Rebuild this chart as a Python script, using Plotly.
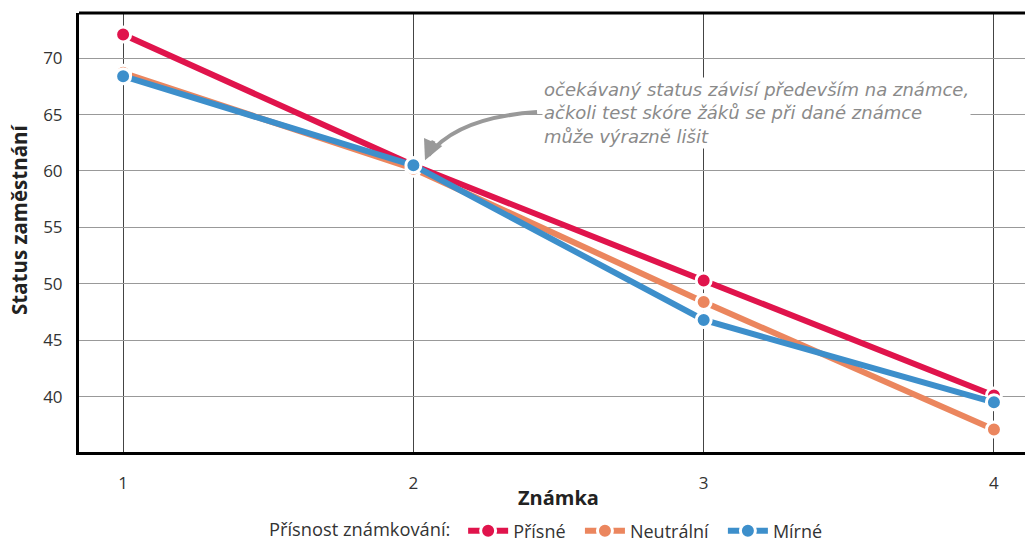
import plotly.graph_objects as go

grades = [1, 2, 3, 4]
series_names = ["Přísné", "Neutrální", "Mírné"]
prisne = [72.1, 60.5, 50.3, 40.1]
neutralni = [68.7, 60.2, 48.4, 37.1]
mirne = [68.4, 60.5, 46.8, 39.5]
colors = ["#E0144C", "#EB865E", "#3D8FCB"]
y_ticks = [40, 45, 50, 55, 60, 65, 70]
x_title = "Známka"
y_title = "Status zaměstnání"
legend_title = "Přísnost známkování:"
note_text = ("očekávaný status závisí především na známce,<br>"
             "ačkoli test skóre žáků se při dané známce<br>"
             "může výrazně lišit")

fig = go.Figure()
for name, vals, col in zip(series_names, [prisne, neutralni, mirne], colors):
    fig.add_trace(go.Scatter(
        x=grades, y=vals, name=name + "\u00a0\u00a0", mode="lines+markers",
        line=dict(color=col, width=6),
        marker=dict(color=col, size=15, line=dict(color="white", width=3)),
    ))

font_main = "Open Sans, Noto Sans, sans-serif"

# curved arrow
fig.add_shape(type="path", xref="x", yref="y",
              path="M 2.426 65.22 Q 2.15 64.75 2.052 61.4",
              line=dict(color="#999999", width=4))
fig.add_annotation(x=2.040, y=60.95, ax=2.072, ay=62.8, xref="x", yref="y",
                   axref="x", ayref="y", text="", showarrow=True,
                   arrowhead=2, arrowsize=1.0, arrowwidth=4, arrowcolor="#999999")
fig.add_annotation(x=2.443, y=65.13, xref="x", yref="y", xanchor="left", yanchor="middle",
                   text="<i>" + note_text + "</i>", showarrow=False, align="left",
                   bgcolor="white", font=dict(family="DejaVu Sans, sans-serif", size=18, color="#8a8a8a"))

# axis titles
fig.add_annotation(xref="paper", yref="paper", x=-60 / 946, y=(452 - 220) / 439,
                   text="<b>" + y_title + "</b>", textangle=-90, showarrow=False,
                   xanchor="center", yanchor="middle",
                   font=dict(family=font_main, size=20.5, color="#222222"))
fig.add_annotation(xref="paper", yref="paper", x=(558 - 79) / 946, y=-(497 - 452) / 439,
                   text="<b>" + x_title + "</b>", showarrow=False,
                   xanchor="center", yanchor="middle",
                   font=dict(family=font_main, size=20, color="#222222"))

# top border
fig.add_shape(type="line", xref="paper", yref="paper", x0=0, x1=1, y0=1, y1=1,
              line=dict(color="black", width=3))

fig.update_layout(
    width=1025, height=550,
    margin=dict(l=79, r=0, t=13, b=98),
    plot_bgcolor="white", paper_bgcolor="white",
    font=dict(family=font_main, size=17, color="#333333"),
    showlegend=True,
    legend=dict(orientation="h", x=0.5, xanchor="center", y=-0.222, yanchor="bottom",
                title=dict(text=legend_title + "\u00a0", side="left",
                           font=dict(family=font_main, size=18.3, color="#333333")),
                font=dict(family=font_main, size=18, color="#333333"), itemwidth=40),
    xaxis=dict(range=[0.848, 4.107], tickvals=grades, ticktext=[str(g) for g in grades],
               automargin=False,
               showgrid=True, gridcolor="#444444", gridwidth=1,
               showline=True, linecolor="black", linewidth=3,
               ticks="outside", ticklen=14, tickcolor="rgba(0,0,0,0)", zeroline=False),
    yaxis=dict(range=[35.1, 74.0], tickvals=y_ticks, automargin=False,
               showgrid=True, gridcolor="#999999", gridwidth=1,
               showline=True, linecolor="black", linewidth=3,
               ticks="outside", ticklen=10, tickcolor="rgba(0,0,0,0)", zeroline=False),
)

fig.write_html("out.html", config={"displayModeBar": False},
               post_script="document.body.style.margin='0';document.body.style.overflow='hidden';")
